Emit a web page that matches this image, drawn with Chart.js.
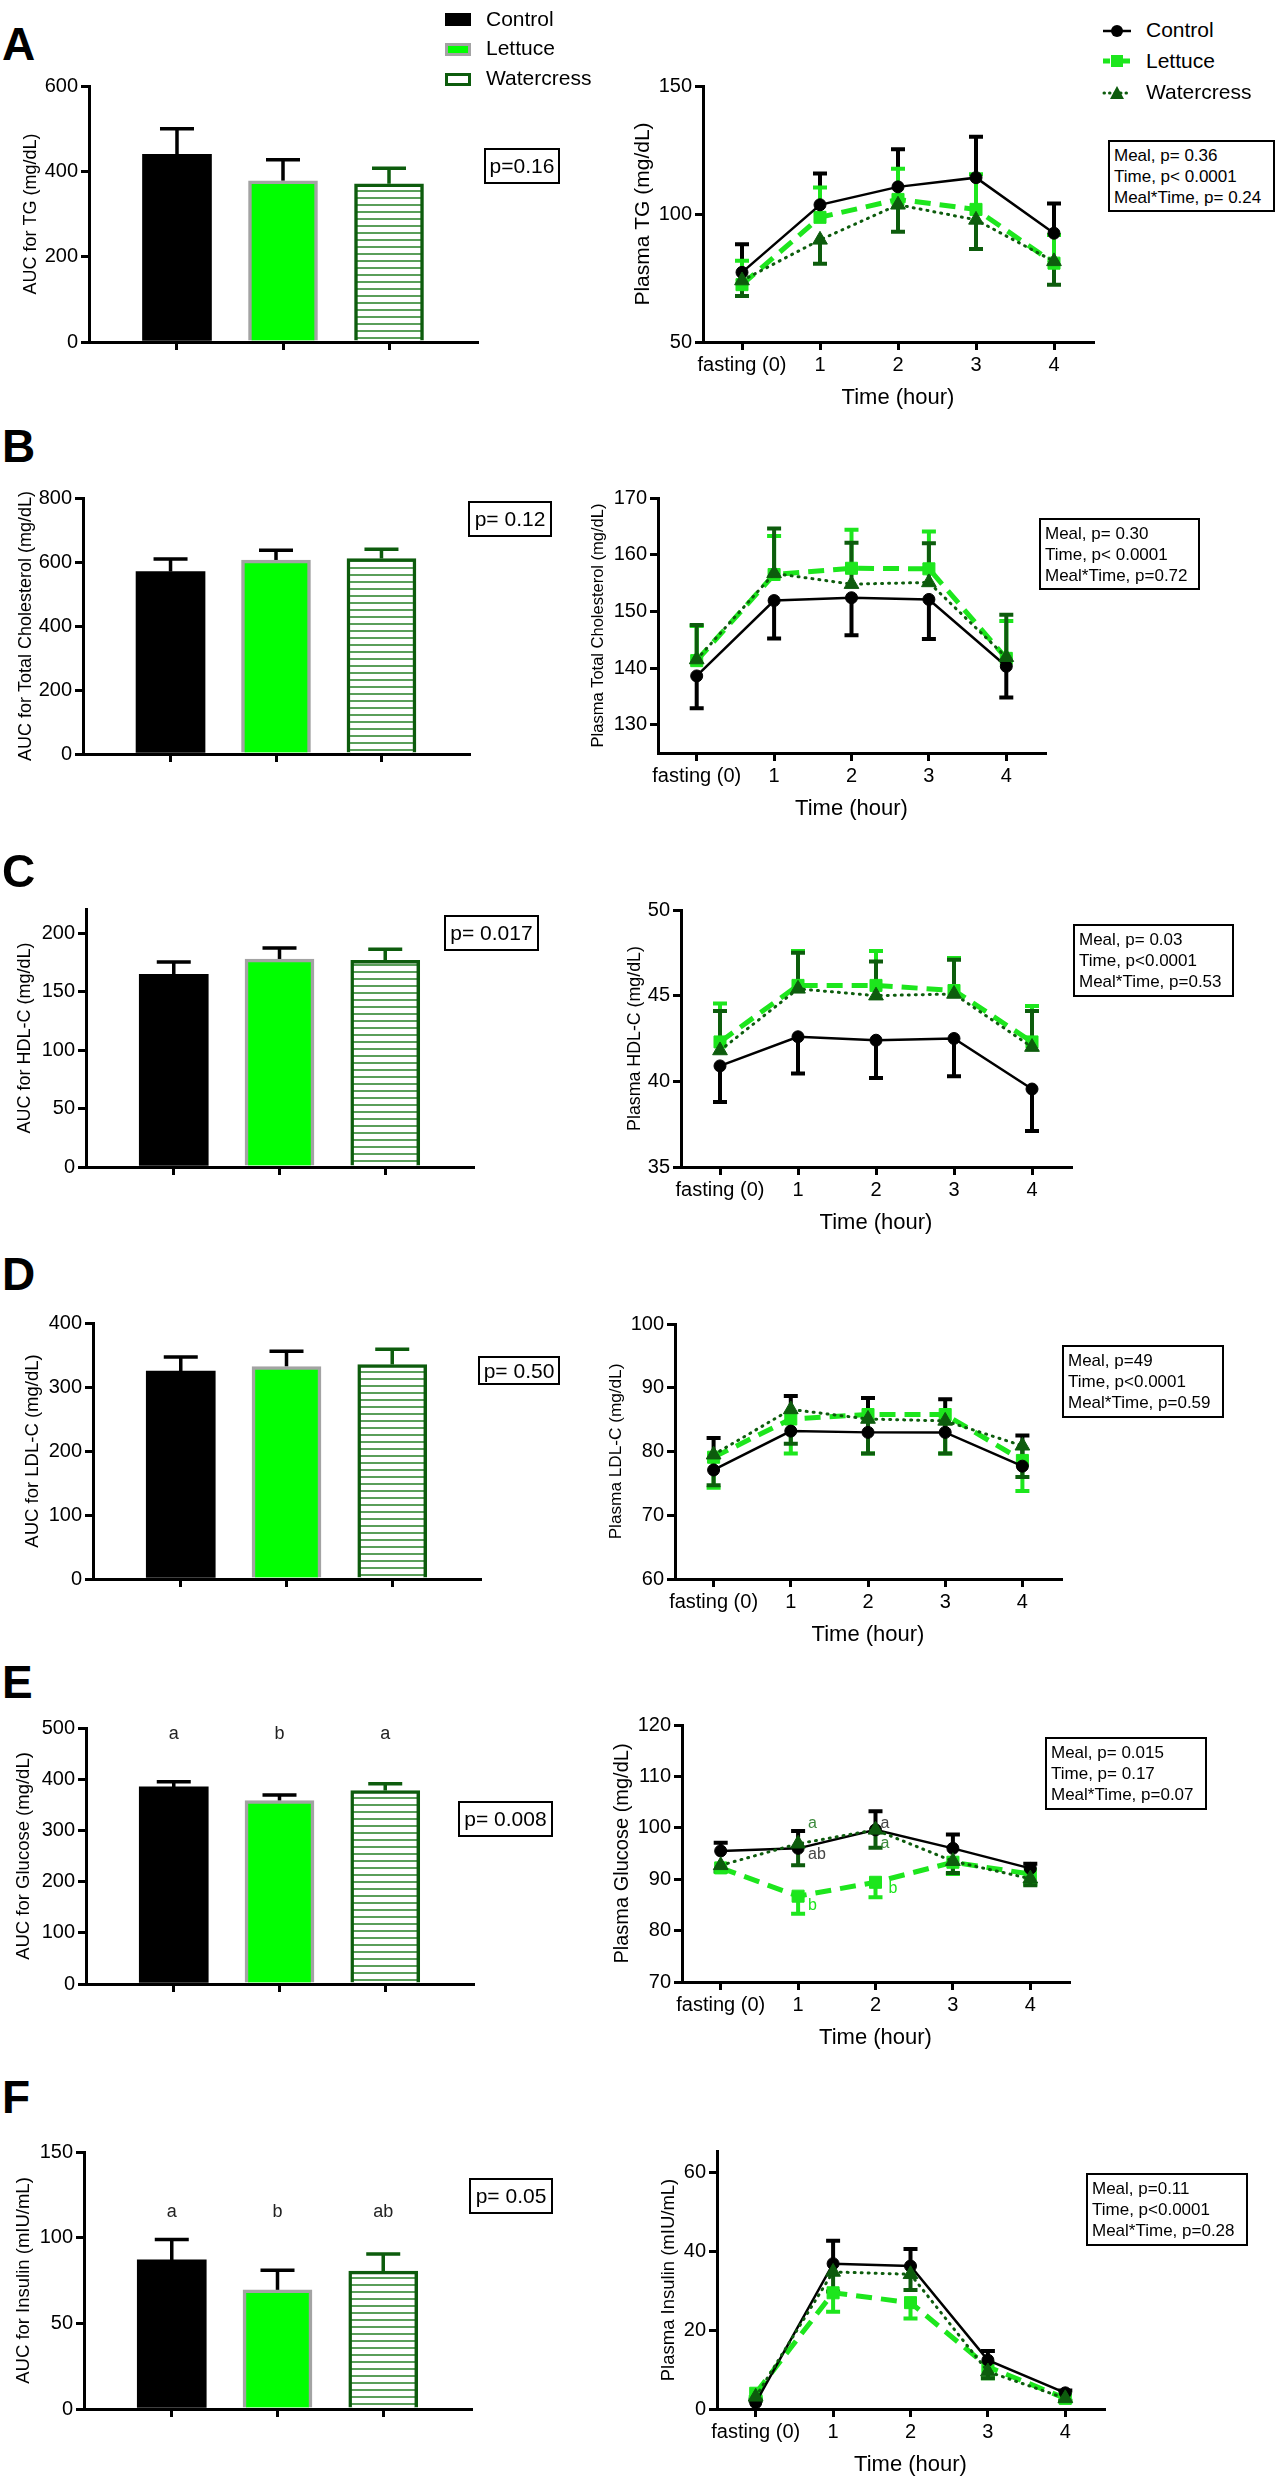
<!DOCTYPE html>
<html>
<head>
<meta charset="utf-8">
<script src="https://cdn.jsdelivr.net/npm/chart.js@4.4.0/dist/chart.umd.min.js"></script>
<style>
  body { margin: 0; background: #fff; font-family: "Liberation Sans", Arial, Helvetica, sans-serif; color: #000; }
  #fig { position: relative; width: 1279px; height: 2481px; overflow: hidden; background: #fff; }
  canvas { position: absolute; }
  .t { position: absolute; white-space: nowrap; line-height: 1; }
  .letter { font-weight: bold; }
  .pbox { position: absolute; box-sizing: border-box; border: 2.5px solid #000; font-size: 21px;
          display: flex; align-items: center; justify-content: center; white-space: nowrap; }
  .stats { position: absolute; box-sizing: border-box; border: 2px solid #000; font-size: 17px;
           line-height: 21px; padding: 3px 0 0 4px; white-space: nowrap; }
  .sq { position: absolute; box-sizing: border-box; width: 26px; height: 13px; }
  svg { position: absolute; }
</style>
</head>
<body>
<div id="fig"></div>
<script>
// ---- data ----
const timeLabels = ['fasting (0)', '1', '2', '3', '4'];
const groupNames = ['Control', 'Lettuce', 'Watercress'];

// A: triglycerides
const tgAuc = [440, 378, 371];
const tgAucErr = [60, 49, 36];
const tgAucTicks = [0, 200, 400, 600];
const tgControl = [77.2, 103.6, 110.6, 114.2, 92.5];
const tgControlErr = [11, 12.2, 14.7, 16, 11.6];
const tgLettuce = [72.4, 98.7, 105.7, 101.8, 80.8];
const tgLettuceErr = [9.3, 11.7, 12, 13.7, 11];
const tgWatercress = [74, 89.9, 103.6, 97.7, 81.5];
const tgWatercressErr = [6, 9.3, 10.5, 11.4, 9.1];
const tgTicks = [50, 100, 150];
const tgAucP = 'p=0.16';
const tgStats = ['Meal, p= 0.36', 'Time, p< 0.0001', 'Meal*Time, p= 0.24'];

// B: total cholesterol
const tcAuc = [570, 606, 611];
const tcAucErr = [39, 31, 29];
const tcAucTicks = [0, 200, 400, 600, 800];
const tcControl = [138.6, 151.9, 152.4, 152.1, 140.3];
const tcControlErr = [5.7, 6.7, 6.6, 7.0, 5.5];
const tcLettuce = [141.3, 156.5, 157.6, 157.5, 141.7];
const tcLettuceErr = [6.1, 6.8, 6.8, 6.6, 6.6];
const tcWatercress = [141.5, 156.7, 154.8, 155.1, 141.9];
const tcWatercressErr = [6.1, 7.9, 7.3, 6.9, 7.5];
const tcTicks = [130, 140, 150, 160, 170];
const tcAucP = 'p= 0.12';
const tcStats = ['Meal, p= 0.30', 'Time, p< 0.0001', 'Meal*Time, p=0.72'];

// C: HDL-C
const hdlAuc = [165, 178, 177];
const hdlAucErr = [10.5, 9.5, 9.5];
const hdlAucTicks = [0, 50, 100, 150, 200];
const hdlControl = [40.9, 42.6, 42.4, 42.5, 39.55];
const hdlControlErr = [2.1, 2.15, 2.2, 2.2, 2.45];
const hdlLettuce = [42.3, 45.6, 45.6, 45.3, 42.3];
const hdlLettuceErr = [2.25, 2.0, 2.0, 1.9, 2.1];
const hdlWatercress = [41.8, 45.4, 45.0, 45.1, 42.0];
const hdlWatercressErr = [2.3, 2.1, 2.0, 2.0, 2.1];
const hdlTicks = [35, 40, 45, 50];
const hdlAucP = 'p= 0.017';
const hdlStats = ['Meal, p= 0.03', 'Time, p<0.0001', 'Meal*Time, p=0.53'];

// D: LDL-C
const ldlAuc = [325, 332, 335];
const ldlAucErr = [22, 24, 24];
const ldlAucTicks = [0, 100, 200, 300, 400];
const ldlControl = [77.1, 83.2, 83.0, 83.0, 77.7];
const ldlControlErr = [5.0, 5.5, 5.4, 5.2, 4.8];
const ldlLettuce = [79.1, 85.1, 85.8, 85.8, 78.6];
const ldlLettuceErr = [4.8, 5.4, 6.1, 6.1, 4.8];
const ldlWatercress = [79.5, 86.6, 85.1, 84.8, 80.9];
const ldlWatercressErr = [4.8, 5.4, 5.4, 5.1, 4.9];
const ldlTicks = [60, 70, 80, 90, 100];
const ldlAucP = 'p= 0.50';
const ldlStats = ['Meal, p=49', 'Time, p<0.0001', 'Meal*Time, p=0.59'];

// E: glucose
const gluAuc = [385, 358, 378];
const gluAucErr = [10, 11, 13];
const gluAucTicks = [0, 100, 200, 300, 400, 500];
const gluAucLetters = ['a', 'b', 'a'];
const gluControl = [95.5, 96.0, 99.6, 96.0, 92.1];
const gluControlErr = [1.6, 3.4, 3.6, 2.7, 0.9];
const gluLettuce = [92.2, 86.7, 89.4, 93.3, 91.0];
const gluLettuceErr = [0.8, 3.4, 2.9, 2.3, 2.0];
const gluWatercress = [92.7, 96.9, 99.6, 93.5, 90.1];
const gluWatercressErr = [1.1, 4.2, 3.5, 2.3, 1.3];
const gluTicks = [70, 80, 90, 100, 110, 120];
const gluNotes = ['a', 'ab', 'a', 'a', 'b', 'b'];
const gluNoteTime = [1, 1, 2, 2, 1, 2];
const gluNoteValue = [100.0, 94.0, 100.0, 96.0, 84.1, 87.3];
const gluAucP = 'p= 0.008';
const gluStats = ['Meal, p= 0.015', 'Time, p= 0.17', 'Meal*Time, p=0.07'];

// F: insulin
const insAuc = [87, 69.5, 80.5];
const insAucErr = [12, 11.5, 10];
const insAucTicks = [0, 50, 100, 150];
const insAucLetters = ['a', 'b', 'ab'];
const insControl = [1.6, 36.9, 36.3, 12.4, 4.1];
const insControlErr = [0.8, 5.8, 4.3, 2.3, 0.6];
const insLettuce = [4.0, 29.5, 27.0, 10.7, 2.7];
const insLettuceErr = [1.0, 4.8, 4.0, 2.9, 0.8];
const insWatercress = [3.1, 34.8, 34.2, 9.5, 2.7];
const insWatercressErr = [1.0, 5.0, 4.0, 1.7, 0.6];
const insTicks = [0, 20, 40, 60];
const insAucP = 'p= 0.05';
const insStats = ['Meal, p=0.11', 'Time, p<0.0001', 'Meal*Time, p=0.28'];

// ---- look ----
const BLACK = '#000000';
const LETTUCE = '#1de61d';
const LETTUCE_BAR = '#00ff00';
const GRAY = '#a3a3a3';
const WATER = '#0d5c0d';
const STRIPE = '#5a9f5a';
const NOTE_GRAY = '#444444';
const NOTE_GREEN = '#3b8a3b';
const FONT = '"Liberation Sans", Arial, Helvetica, sans-serif';

Chart.defaults.font.family = FONT;
Chart.defaults.color = BLACK;

const fig = document.getElementById('fig');

// error bars drawn from the chart's own y scale
const errorBars = {
  id: 'errorBars',
  defaults: { width: 4, cap: 7 },
  beforeDatasetsDraw(chart, args, opts) {
    const ctx = chart.ctx, ys = chart.scales.y;
    chart.data.datasets.forEach((ds, i) => {
      if (!ds.err) return;
      const meta = chart.getDatasetMeta(i);
      ctx.save();
      ctx.lineWidth = opts.width;
      meta.data.forEach((el, j) => {
        const raw = ds.data[j];
        const v = typeof raw === 'object' ? raw.y : raw;
        const y0 = ys.getPixelForValue(v);
        const y1 = ys.getPixelForValue(v + ds.errDir * ds.err[j]);
        ctx.strokeStyle = Array.isArray(ds.errColor) ? ds.errColor[j] : ds.errColor;
        ctx.beginPath();
        ctx.moveTo(el.x, y0);
        ctx.lineTo(el.x, y1);
        ctx.moveTo(el.x - opts.cap, y1);
        ctx.lineTo(el.x + opts.cap, y1);
        ctx.stroke();
      });
      ctx.restore();
    });
  }
};

// small letters placed in data coordinates
const notes = {
  id: 'notes',
  defaults: { items: null, size: 16, align: 'left' },
  afterDatasetsDraw(chart, args, opts) {
    if (!opts.items) return;
    const ctx = chart.ctx, xs = chart.scales.x, ys = chart.scales.y;
    ctx.save();
    ctx.font = opts.size + 'px ' + FONT;
    ctx.textAlign = opts.align;
    ctx.textBaseline = 'alphabetic';
    opts.items.forEach(it => {
      ctx.fillStyle = it.color;
      ctx.fillText(it.text, xs.getPixelForValue(it.x) + (it.dx || 0), ys.getPixelForValue(it.y));
    });
    ctx.restore();
  }
};

Chart.register(errorBars, notes);

function axis(o) {
  const a = {
    type: o.type || 'linear',
    min: o.min,
    max: o.max,
    offset: !!o.offset,
    border: { display: true, color: BLACK, width: 3 },
    grid: { display: true, drawOnChartArea: false, drawTicks: true, tickLength: 8, color: BLACK, lineWidth: 3, offset: false },
    ticks: { color: BLACK, font: { size: 20 }, padding: 3, maxRotation: 0, minRotation: 0, autoSkip: false },
    afterFit: s => {
      if (o.width) s.width = o.width;
      if (o.height) s.height = o.height;
    }
  };
  if (o.ticksAt) a.afterBuildTicks = s => { s.ticks = o.ticksAt.map(v => ({ value: v })); };
  if (o.noLabels) a.ticks.callback = () => '';
  if (o.title) a.title = { display: true, text: o.title, font: { size: o.titleSize }, padding: 0, color: BLACK };
  return a;
}

// canvas so that the plot area lands on box = [left, top, right, bottom]
function place(box, titleX, titleSize, below) {
  const [l, t, r, b] = box;
  const padTop = 14, padRight = 12;
  const left = Math.round(titleX - 0.6 * titleSize);
  const top = t - padTop;
  const w = r + padRight - left, h = b + below - top;
  const c = document.createElement('canvas');
  c.width = w;
  c.height = h;
  c.style.cssText = `left:${left}px;top:${top}px;width:${w}px;height:${h}px`;
  fig.appendChild(c);
  return { canvas: c, yWidth: l - left, padding: { top: padTop, right: padRight, left: 0, bottom: 0 } };
}

function stripeTile() {
  const c = document.createElement('canvas');
  c.width = 8; c.height = 7;
  const g = c.getContext('2d');
  g.fillStyle = '#ffffff';
  g.fillRect(0, 0, 8, 7);
  g.fillStyle = STRIPE;
  g.fillRect(0, 0, 8, 2);
  return c;
}

function barChart(p) {
  const pl = place(p.box, p.titleX, p.titleSize, 20);
  const hatch = pl.canvas.getContext('2d').createPattern(stripeTile(), 'repeat');
  let noteOpts = {};
  if (p.letters) {
    noteOpts = {
      size: 18, align: 'center',
      items: p.letters.map((s, i) => ({ text: s, x: i, y: p.letterY, color: '#222' }))
    };
  }
  new Chart(pl.canvas, {
    type: 'bar',
    data: {
      datasets: [{
        label: 'AUC',
        data: p.values.map((v, i) => ({ x: i, y: v })),
        backgroundColor: [BLACK, LETTUCE_BAR, hatch],
        borderColor: [BLACK, GRAY, WATER],
        borderWidth: [0, 3.5, 3.5],
        barThickness: 69,
        err: p.err,
        errDir: 1,
        errColor: [BLACK, BLACK, WATER]
      }]
    },
    options: {
      responsive: false, animation: false, events: [], devicePixelRatio: 1,
      layout: { padding: pl.padding },
      plugins: {
        legend: { display: false }, tooltip: { enabled: false },
        errorBars: { width: 3.5, cap: 17 },
        notes: noteOpts
      },
      scales: {
        x: axis({ type: 'linear', min: -0.83, max: 2.83, ticksAt: [0, 1, 2], noLabels: true, height: 20 }),
        y: axis({ min: 0, max: p.max, ticksAt: p.ticks, width: pl.yWidth, title: p.title, titleSize: p.titleSize })
      }
    }
  });
}

function lineChart(p) {
  const pl = place(p.box, p.titleX, p.titleSize, 69);
  const base = { tension: 0, fill: false, pointBorderWidth: 1 };
  new Chart(pl.canvas, {
    type: 'line',
    data: {
      labels: timeLabels,
      datasets: [
        Object.assign({}, base, {
          label: groupNames[0], data: p.control, err: p.controlErr, errDir: p.dir[0], errColor: BLACK,
          borderColor: BLACK, backgroundColor: BLACK, pointBackgroundColor: BLACK, pointBorderColor: BLACK,
          borderWidth: 2.5, pointStyle: 'circle', pointRadius: 6, order: 1
        }),
        Object.assign({}, base, {
          label: groupNames[1], data: p.lettuce, err: p.lettuceErr, errDir: p.dir[1], errColor: LETTUCE,
          borderColor: LETTUCE, backgroundColor: LETTUCE, pointBackgroundColor: LETTUCE, pointBorderColor: LETTUCE,
          borderWidth: 5, borderDash: [16, 9], pointStyle: 'rect', pointRadius: 8.5, order: 2
        }),
        Object.assign({}, base, {
          label: groupNames[2], data: p.watercress, err: p.watercressErr, errDir: p.dir[2], errColor: WATER,
          borderColor: WATER, backgroundColor: WATER, pointBackgroundColor: WATER, pointBorderColor: WATER,
          borderWidth: 3, borderDash: [1, 6], borderCapStyle: 'round', pointStyle: 'triangle', pointRadius: 8.5, order: 0
        })
      ]
    },
    options: {
      responsive: false, animation: false, events: [], devicePixelRatio: 1,
      layout: { padding: pl.padding },
      plugins: {
        legend: { display: false }, tooltip: { enabled: false },
        errorBars: { width: 4, cap: 7 },
        notes: p.notes || {}
      },
      scales: {
        x: axis({ type: 'category', offset: true, height: 69, title: 'Time (hour)', titleSize: 22 }),
        y: axis({ min: p.min, max: p.max, ticksAt: p.ticks, width: pl.yWidth, title: p.title, titleSize: p.titleSize })
      }
    }
  });
}

function label(str, x, base, size, cls) {
  const d = document.createElement('div');
  d.className = 't' + (cls ? ' ' + cls : '');
  d.textContent = str;
  d.style.left = x + 'px';
  d.style.top = (base - 0.8465 * size) + 'px';
  d.style.fontSize = size + 'px';
  fig.appendChild(d);
}

function pBox(str, [x, y, w, h]) {
  const d = document.createElement('div');
  d.className = 'pbox';
  d.textContent = str;
  Object.assign(d.style, { left: x + 'px', top: y + 'px', width: w + 'px', height: h + 'px' });
  fig.appendChild(d);
}

function statsBox(lines, [x, y, w, h]) {
  const d = document.createElement('div');
  d.className = 'stats';
  Object.assign(d.style, { left: x + 'px', top: y + 'px', width: w + 'px', height: h + 'px' });
  lines.forEach(s => {
    const l = document.createElement('div');
    l.textContent = s;
    d.appendChild(l);
  });
  fig.appendChild(d);
}

// ---- panels ----
const panels = [
  {
    letter: 'A', letterBase: 60, pText: tgAucP, pRect: [484, 148, 76, 36], stats: tgStats, statsRect: [1108, 140, 167, 72],
    bar: { box: [89, 85, 477, 342], titleX: 31, titleSize: 18, title: 'AUC for TG (mg/dL)', values: tgAuc, err: tgAucErr, ticks: tgAucTicks, max: 600 },
    line: { box: [703, 85, 1093, 342], titleX: 644, titleSize: 21, title: 'Plasma TG (mg/dL)', min: 50, max: 150, ticks: tgTicks,
      control: tgControl, controlErr: tgControlErr, lettuce: tgLettuce, lettuceErr: tgLettuceErr, watercress: tgWatercress, watercressErr: tgWatercressErr, dir: [1, 1, -1] }
  },
  {
    letter: 'B', letterBase: 462, pText: tcAucP, pRect: [468, 501, 84, 36], stats: tcStats, statsRect: [1039, 518, 161, 72],
    bar: { box: [83, 497, 469, 754], titleX: 26, titleSize: 18, title: 'AUC for Total Cholesterol (mg/dL)', values: tcAuc, err: tcAucErr, ticks: tcAucTicks, max: 800 },
    line: { box: [658, 497, 1045, 753], titleX: 599, titleSize: 16.5, title: 'Plasma Total Cholesterol (mg/dL)', min: 125, max: 170, ticks: tcTicks,
      control: tcControl, controlErr: tcControlErr, lettuce: tcLettuce, lettuceErr: tcLettuceErr, watercress: tcWatercress, watercressErr: tcWatercressErr, dir: [-1, 1, 1] }
  },
  {
    letter: 'C', letterBase: 887, pText: hdlAucP, pRect: [444, 915, 95, 36], stats: hdlStats, statsRect: [1073, 924, 161, 73],
    bar: { box: [86, 908, 473, 1167], titleX: 24.5, titleSize: 18, title: 'AUC for HDL-C (mg/dL)', values: hdlAuc, err: hdlAucErr, ticks: hdlAucTicks, max: 221 },
    line: { box: [681, 909, 1071, 1167], titleX: 635, titleSize: 17.8, title: 'Plasma HDL-C (mg/dL)', min: 35, max: 50, ticks: hdlTicks,
      control: hdlControl, controlErr: hdlControlErr, lettuce: hdlLettuce, lettuceErr: hdlLettuceErr, watercress: hdlWatercress, watercressErr: hdlWatercressErr, dir: [-1, 1, 1] }
  },
  {
    letter: 'D', letterBase: 1290, pText: ldlAucP, pRect: [478, 1356, 82, 29], stats: ldlStats, statsRect: [1062, 1345, 162, 73],
    bar: { box: [93, 1322, 480, 1579], titleX: 33, titleSize: 18.5, title: 'AUC for LDL-C (mg/dL)', values: ldlAuc, err: ldlAucErr, ticks: ldlAucTicks, max: 400 },
    line: { box: [675, 1323, 1061, 1579], titleX: 616, titleSize: 17.2, title: 'Plasma LDL-C (mg/dL)', min: 60, max: 100, ticks: ldlTicks,
      control: ldlControl, controlErr: ldlControlErr, lettuce: ldlLettuce, lettuceErr: ldlLettuceErr, watercress: ldlWatercress, watercressErr: ldlWatercressErr, dir: [1, -1, -1] }
  },
  {
    letter: 'E', letterBase: 1698, pText: gluAucP, pRect: [458, 1801, 95, 36], stats: gluStats, statsRect: [1045, 1737, 162, 73],
    bar: { box: [86, 1727, 473, 1984], titleX: 24.5, titleSize: 18.5, title: 'AUC for Glucose (mg/dL)', values: gluAuc, err: gluAucErr, ticks: gluAucTicks, max: 500,
      letters: gluAucLetters, letterY: 478 },
    line: { box: [682, 1724, 1069, 1982], titleX: 622, titleSize: 20, title: 'Plasma Glucose (mg/dL)', min: 70, max: 120, ticks: gluTicks,
      control: gluControl, controlErr: gluControlErr, lettuce: gluLettuce, lettuceErr: gluLettuceErr, watercress: gluWatercress, watercressErr: gluWatercressErr, dir: [1, -1, -1],
      notes: {
        size: 16, align: 'left',
        items: gluNotes.map((s, k) => ({
          text: s, x: gluNoteTime[k], y: gluNoteValue[k],
          color: [NOTE_GREEN, NOTE_GRAY, NOTE_GRAY, NOTE_GREEN, LETTUCE, LETTUCE][k],
          dx: [10, 10, 5, 5, 10, 13][k]
        }))
      } }
  },
  {
    letter: 'F', letterBase: 2113, pText: insAucP, pRect: [469, 2178, 84, 36], stats: insStats, statsRect: [1086, 2173, 162, 73],
    bar: { box: [84, 2151, 471, 2409], titleX: 24.5, titleSize: 18.5, title: 'AUC for Insulin (mIU/mL)', values: insAuc, err: insAucErr, ticks: insAucTicks, max: 150,
      letters: insAucLetters, letterY: 112 },
    line: { box: [717, 2150, 1104, 2409], titleX: 669, titleSize: 18.5, title: 'Plasma Insulin (mIU/mL)', min: 0, max: 65.5, ticks: insTicks,
      control: insControl, controlErr: insControlErr, lettuce: insLettuce, lettuceErr: insLettuceErr, watercress: insWatercress, watercressErr: insWatercressErr, dir: [1, -1, -1] }
  }
];

panels.forEach(p => {
  barChart(p.bar);
  lineChart(p.line);
  label(p.letter, 2, p.letterBase, 46, 'letter');
  pBox(p.pText, p.pRect);
  statsBox(p.stats, p.statsRect);
});

// bar legend (top middle)
const sqStyles = [
  { background: BLACK },
  { background: LETTUCE_BAR, border: '3px solid ' + GRAY },
  { background: '#fff', border: '3px solid ' + WATER }
];
[13, 43, 73].forEach((top, i) => {
  const s = document.createElement('div');
  s.className = 'sq';
  Object.assign(s.style, { left: '445px', top: top + 'px' }, sqStyles[i]);
  fig.appendChild(s);
  label(groupNames[i], 486, [26, 55, 85][i], 21);
});

// line legend (top right)
const NS = 'http://www.w3.org/2000/svg';
const symbols = [
  `<line x1="1" y1="10" x2="29" y2="10" stroke="${BLACK}" stroke-width="2.5"/><circle cx="15" cy="10" r="6" fill="${BLACK}"/>`,
  `<line x1="1" y1="10" x2="29" y2="10" stroke="${LETTUCE}" stroke-width="5" stroke-dasharray="7 3"/><rect x="9" y="4" width="12" height="12" fill="${LETTUCE}"/>`,
  `<line x1="2" y1="10" x2="29" y2="10" stroke="${WATER}" stroke-width="3" stroke-dasharray="0.5 5" stroke-linecap="round"/><polygon points="15,3 22,16 8,16" fill="${WATER}"/>`
];
[31, 61, 93].forEach((cy, i) => {
  const svg = document.createElementNS(NS, 'svg');
  svg.setAttribute('width', '30');
  svg.setAttribute('height', '20');
  svg.style.left = '1102px';
  svg.style.top = (cy - 10) + 'px';
  svg.innerHTML = symbols[i];
  fig.appendChild(svg);
  label(groupNames[i], 1146, [37, 68, 99][i], 21);
});
</script>
</body>
</html>
